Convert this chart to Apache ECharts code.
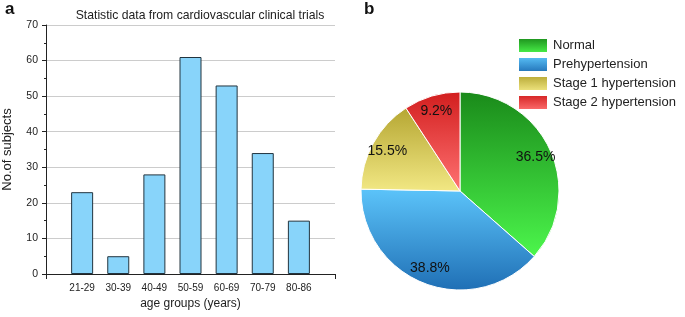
<!DOCTYPE html>
<html>
<head>
<meta charset="utf-8">
<script src="https://cdn.jsdelivr.net/npm/echarts@6/dist/echarts.min.js"></script>
<style>
html,body{margin:0;padding:0;background:#fff;}
#c{width:685px;height:317px;}
</style>
</head>
<body>
<div id="c"></div>
<script>
// ---- data ----
var ageGroups = ['21-29', '30-39', '40-49', '50-59', '60-69', '70-79', '80-86'];
var subjects = [23, 5, 28, 61, 53, 34, 15];
var bpCategories = ['Normal', 'Prehypertension', 'Stage 1 hypertension', 'Stage 2 hypertension'];
var bpPercent = [36.5, 38.8, 15.5, 9.2];
var yTicks = [0, 10, 20, 30, 40, 50, 60, 70];

function grad(top, bottom) {
  return new echarts.graphic.LinearGradient(0, 0, 0, 1, [
    {offset: 0, color: top}, {offset: 1, color: bottom}
  ]);
}
var sliceGrads = [
  grad('#1a8a1a', '#4cf64c'),
  grad('#5cc4fa', '#1f6fb5'),
  grad('#b5a632', '#f2e884'),
  grad('#d21e1e', '#ff7272')
];

var xCats = [''].concat(ageGroups).concat(['']);
var barData = [null].concat(subjects).concat([null]);

var pieData = bpCategories.map(function (n, i) {
  return {name: n, value: bpPercent[i], itemStyle: {color: sliceGrads[i]}};
});
var labelData = bpCategories.map(function (n, i) {
  return {name: n, value: bpPercent[i]};
});

var font = '"Liberation Sans", Arial, sans-serif';
var chart = echarts.init(document.getElementById('c'), null, {renderer: 'canvas'});
chart.setOption({
  animation: false,
  textStyle: {fontFamily: font},
  graphic: [
    {type: 'text', left: 5, top: 1, style: {text: 'a', font: 'bold 17px ' + font, fill: '#111'}},
    {type: 'text', left: 364, top: 1, style: {text: 'b', font: 'bold 17px ' + font, fill: '#111'}},
    {type: 'text', x: 200, y: 16, style: {text: 'Statistic data from cardiovascular clinical trials', font: '12.2px ' + font, fill: '#222', align: 'center', verticalAlign: 'middle'}}
  ],
  grid: {left: 46, top: 25, width: 289, height: 249, containLabel: false},
  xAxis: {
    type: 'category',
    data: xCats,
    boundaryGap: false,
    name: 'age groups (years)',
    nameLocation: 'middle',
    nameGap: 23,
    nameTextStyle: {fontSize: 12, color: '#222', fontFamily: font},
    axisLine: {lineStyle: {color: '#222', width: 1}},
    axisTick: {show: true, length: 5, interval: function (i) { return i === 0 || i === xCats.length - 1; }, lineStyle: {color: '#222'}},
    axisLabel: {interval: 0, fontSize: 10, color: '#222', margin: 9, fontFamily: font},
    splitLine: {show: false}
  },
  yAxis: {
    type: 'value',
    min: yTicks[0],
    max: yTicks[yTicks.length - 1],
    interval: 10,
    name: 'No.of subjects',
    nameLocation: 'middle',
    nameGap: 32,
    nameRotate: 90,
    nameTextStyle: {fontSize: 13, color: '#222', fontFamily: font},
    axisLine: {show: true, lineStyle: {color: '#222', width: 1}},
    axisTick: {show: true, length: 4, lineStyle: {color: '#222'}},
    minorTick: {show: true, splitNumber: 2, length: 2, lineStyle: {color: '#222'}},
    axisLabel: {fontSize: 10.5, color: '#222', margin: 8, fontFamily: font},
    splitLine: {show: true, lineStyle: {color: '#cccccc', width: 1}}
  },
  legend: {
    orient: 'vertical',
    left: 517,
    top: 37,
    padding: 0,
    itemWidth: 30,
    itemHeight: 15,
    itemGap: 2,
    icon: 'rect',
    data: bpCategories,
    textStyle: {fontSize: 13, color: '#222', fontFamily: font},
    selectedMode: false
  },
  series: [
    {
      type: 'bar',
      data: barData,
      barWidth: 22,
      itemStyle: {color: '#88d4fa', borderColor: '#22343f', borderWidth: 1}
    },
    {
      type: 'pie',
      center: [460, 191],
      radius: 99,
      startAngle: 90,
      clockwise: true,
      data: pieData,
      label: {show: false},
      labelLine: {show: false},
      itemStyle: {borderColor: '#fff', borderWidth: 1},
      silent: true
    },
    {
      type: 'pie',
      center: [460, 191],
      radius: [60, 100],
      startAngle: 90,
      clockwise: true,
      data: labelData,
      legendHoverLink: false,
      silent: true,
      itemStyle: {color: 'rgba(0,0,0,0)', borderWidth: 0},
      label: {
        show: true,
        position: 'inside',
        formatter: function (p) { return p.value.toFixed(1) + '%'; },
        fontSize: 14,
        color: '#111',
        fontFamily: font
      },
      labelLine: {show: false}
    }
  ]
});
</script>
</body>
</html>
